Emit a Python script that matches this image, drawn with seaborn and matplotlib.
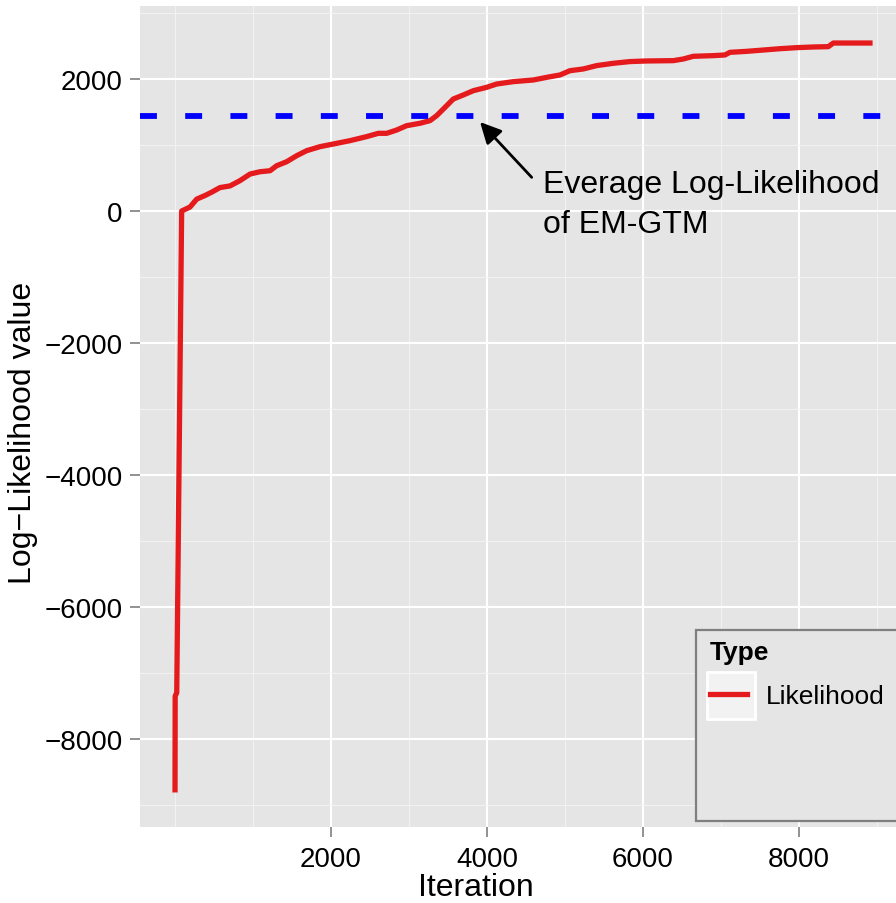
import matplotlib
matplotlib.use("Agg")
import matplotlib.pyplot as plt
from matplotlib.patches import Rectangle
from matplotlib.ticker import FixedLocator
import seaborn as sns
import pandas as pd

# ---- data ----
iterations = [0, 2, 22, 85, 192, 278, 385, 470, 577, 705, 833, 962, 1090, 1218, 1303,
              1432, 1560, 1688, 1859, 2030, 2244, 2457, 2607, 2714, 2842, 2970, 3141,
              3269, 3355, 3462, 3568, 3696, 3825, 3996, 4124, 4338, 4594, 4765, 4936,
              5064, 5235, 5406, 5620, 5833, 6047, 6389, 6517, 6645, 6902, 7051, 7115,
              7329, 7543, 7756, 7970, 8184, 8376, 8440, 8611, 8910]
likelihood = [-8770, -7350, -7300, 0, 60, 180, 235, 285, 355, 380, 460, 560, 595, 610,
              686, 747, 838, 914, 975, 1015, 1066, 1127, 1177, 1177, 1227, 1293, 1329,
              1369, 1445, 1571, 1697, 1758, 1823, 1874, 1924, 1960, 1985, 2025, 2061,
              2126, 2152, 2203, 2238, 2264, 2273, 2278, 2303, 2344, 2354, 2364, 2404,
              2419, 2439, 2459, 2475, 2485, 2490, 2545, 2545, 2545]
series_type = ["Likelihood"] * len(iterations)
em_gtm_average = 1440
x_major = [2000, 4000, 6000, 8000]
x_minor = [0, 1000, 3000, 5000, 7000, 9000]
y_major = [-8000, -6000, -4000, -2000, 0, 2000]
y_minor = [-9000, -7000, -5000, -3000, -1000, 1000, 3000]
annotation_text = "Everage Log-Likelihood\nof EM-GTM"

df = pd.DataFrame({"Iteration": iterations, "Value": likelihood, "Type": series_type})

FONT = ["Liberation Sans", "DejaVu Sans"]
plt.rcParams["font.family"] = FONT

W, H = 896, 904
fig = plt.figure(figsize=(W / 100, H / 100), dpi=100)
ax = fig.add_axes([140 / W, 1 - 828 / H, 1 - 140 / W, (828 - 7) / H])
ax.set_facecolor("#E5E5E5")

# grid
ax.xaxis.set_major_locator(FixedLocator(x_major))
ax.xaxis.set_minor_locator(FixedLocator(x_minor))
ax.yaxis.set_major_locator(FixedLocator(y_major))
ax.yaxis.set_minor_locator(FixedLocator(y_minor))
ax.grid(which="major", color="white", lw=1.5)
ax.grid(which="minor", color="#F2F2F2", lw=0.8)
ax.set_axisbelow(True)

sns.lineplot(data=df, x="Iteration", y="Value", hue="Type", palette={"Likelihood": "#E41A1C"},
             estimator=None, sort=False, lw=3.8, ax=ax, legend=False, zorder=3)
ax.axhline(em_gtm_average, color="#0000FF", lw=4.2, linestyle=(0, (2.9, 4.85)), zorder=4)

ax.set_xlim(-449, 9244)
ax.set_ylim(-9333, 3106)

for s in ax.spines.values():
    s.set_visible(False)

ax.tick_params(axis="both", which="major", length=7.5, width=1.2, color="#7F7F7F",
               labelsize=20, labelcolor="black")
ax.tick_params(axis="x", which="major", pad=6.5)
ax.tick_params(axis="y", which="major", pad=5)
ax.tick_params(which="minor", length=0)

ax.set_xlabel("Iteration", fontsize=23)
ax.set_ylabel("Log\u2212Likelihood value", fontsize=23)
ax.xaxis.set_label_coords((476 - 140) / 756, (828 - 873) / 821)
ax.yaxis.set_label_coords((38 - 140) / 756, (828 - 433) / 821)

# annotation: arrow + text
ax.annotate("", xy=(3911, 1348), xytext=(4573, 510),
            arrowprops=dict(arrowstyle="-|>", color="black", lw=2, mutation_scale=32,
                            shrinkA=0, shrinkB=0), zorder=5)
ax.text(4718, 105, annotation_text, fontsize=23, ha="left", va="center",
        linespacing=1.4, zorder=5)

# legend box
fig.patches.append(Rectangle((696 / W, 1 - 822 / H), 220 / W, 191 / H,
                             transform=fig.transFigure, facecolor="#E5E5E5",
                             edgecolor="#7F7F7F", lw=1.6, zorder=2))
handle = plt.Line2D([], [], color="#E41A1C", lw=3.8)
leg = fig.legend([handle], ["Likelihood"], title="Type", loc="upper left",
                 bbox_to_anchor=(703 / W, 1 - 634 / H), frameon=False,
                 fontsize=19, title_fontproperties={"weight": "bold", "size": 19},
                 handlelength=1.4, handletextpad=0.7, alignment="left",
                 borderpad=0.2, labelspacing=0.75)
leg.set_zorder(5)

# align legend title to its reference place
fig.canvas.draw()
r = fig.canvas.get_renderer()
tb = leg.get_title().get_window_extent(r)
dx = 710 - tb.x0
dy = (H - 653) - (tb.y0 + tb.y1) / 2
leg.set_bbox_to_anchor(((703 + dx) / W, 1 - (634 - dy) / H), transform=fig.transFigure)
fig.canvas.draw()
lb = leg.get_texts()[0].get_window_extent(r)
cy = (lb.y0 + lb.y1) / 2
fig.patches.append(Rectangle((707 / W, (cy - 23.5) / H), 48 / W, 47 / H,
                             transform=fig.transFigure, facecolor="#F2F2F2",
                             edgecolor="white", lw=2, zorder=3))

fig.savefig("out.png", dpi=100)
